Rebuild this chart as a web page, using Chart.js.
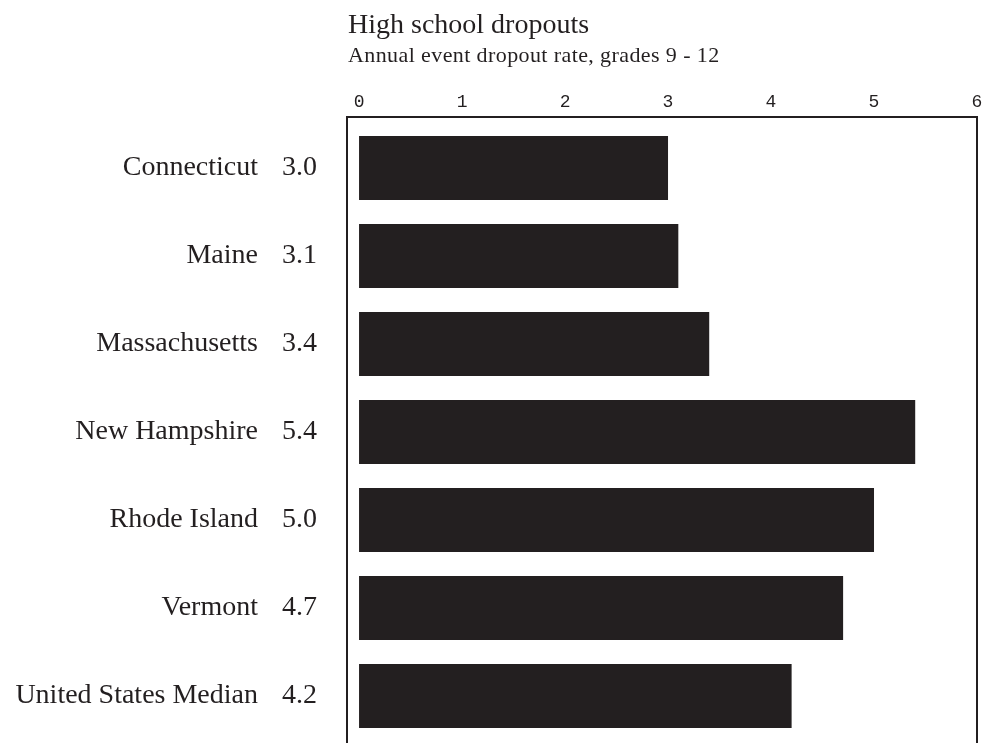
<!DOCTYPE html>
<html>
<head>
<meta charset="utf-8">
<script src="https://cdn.jsdelivr.net/npm/chart.js@4"></script>
<style>
  html, body { margin:0; padding:0; background:#fff; }
  #wrap { width:985px; height:743px; }
</style>
</head>
<body>
<div id="wrap"><canvas id="dropoutChart" width="985" height="743"></canvas></div>
<script>
const states = ['Connecticut','Maine','Massachusetts','New Hampshire','Rhode Island','Vermont','United States Median'];
const rates = [3.0, 3.1, 3.4, 5.4, 5.0, 4.7, 4.2];
const xTicks = [0, 1, 2, 3, 4, 5, 6];
const titleText = 'High school dropouts';
const subtitleText = 'Annual event dropout rate, grades 9 - 12';

const ink = '#231f20';

// title block, drawn by hand so the subtitle can get its letter spacing
const headings = {
  id: 'headings',
  afterDraw(chart){
    const ctx = chart.ctx, x = chart.chartArea.left + 1;
    ctx.save();
    ctx.fillStyle = ink;
    ctx.textAlign = 'left';
    ctx.textBaseline = 'alphabetic';
    ctx.font = '28px "Liberation Serif"';
    ctx.fillText(titleText, x, 33);
    ctx.font = '22px "Liberation Serif"';
    ctx.letterSpacing = '0.4px';
    ctx.fillText(subtitleText, x, 62);
    ctx.restore();
  }
};

// state names + values on the left, placed on the category scale
const sideLabels = {
  id: 'sideLabels',
  afterDraw(chart){
    const ctx = chart.ctx, y = chart.scales.y;
    ctx.save();
    ctx.fillStyle = ink;
    ctx.font = '28px "Liberation Serif"';
    ctx.textBaseline = 'middle';
    states.forEach((s, i) => {
      const py = y.getPixelForValue(i);
      ctx.textAlign = 'right';
      ctx.fillText(s, 258, py);
      ctx.textAlign = 'left';
      ctx.fillText(rates[i].toFixed(1), 282, py);
    });
    ctx.restore();
  }
};

// open box round the plot
const frame = {
  id: 'frame',
  afterDraw(chart){
    const {ctx, chartArea:a} = chart;
    const top = a.top - 7;
    ctx.save();
    ctx.strokeStyle = ink;
    ctx.lineWidth = 2;
    ctx.beginPath();
    ctx.moveTo(a.left, chart.height + 2);
    ctx.lineTo(a.left, top);
    ctx.lineTo(a.right, top);
    ctx.lineTo(a.right, chart.height + 2);
    ctx.stroke();
    ctx.restore();
  }
};

new Chart(document.getElementById('dropoutChart'), {
  type: 'bar',
  data: {
    labels: states,
    datasets: [{ data: rates, backgroundColor: ink, borderWidth: 0, categoryPercentage: 1, barPercentage: 0.727 }]
  },
  options: {
    indexAxis: 'y',
    responsive: false,
    animation: false,
    layout: { padding: { left: 347, right: 8, top: 92, bottom: 3 } },
    plugins: {
      legend: { display: false },
      tooltip: { enabled: false }
    },
    scales: {
      x: {
        position: 'top',
        min: -0.117, max: 6,
        afterBuildTicks: axis => { axis.ticks = xTicks.map(v => ({ value: v })); },
        afterFit: axis => { axis.height = 32; axis.paddingLeft = 0; axis.paddingRight = 0; },
        grid: { display: false, drawTicks: false },
        border: { display: false },
        ticks: { color: ink, padding: 11, maxRotation: 0, font: { family: 'Liberation Mono', size: 18 } }
      },
      y: { display: false }
    }
  },
  plugins: [headings, sideLabels, frame]
});
</script>
</body>
</html>
